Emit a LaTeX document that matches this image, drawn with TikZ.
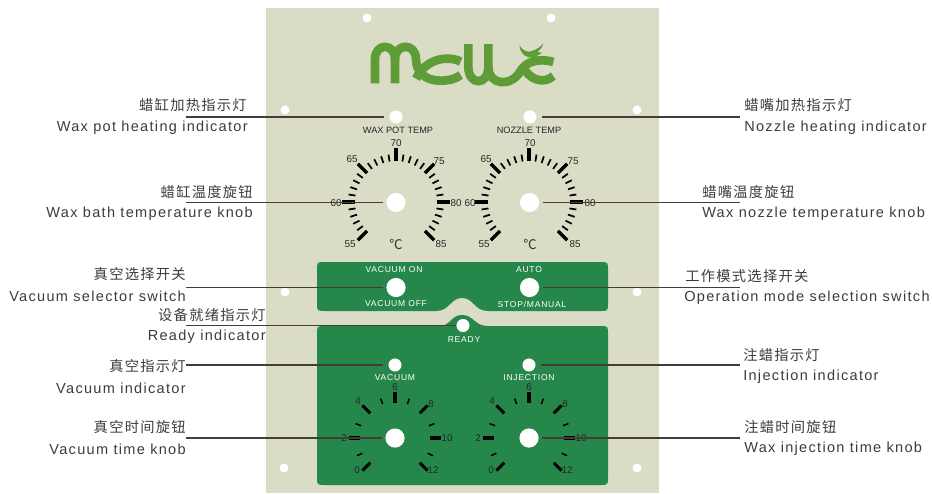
\documentclass[tikz,border=0pt]{standalone}
\usepackage{fontspec}
\setmainfont{Liberation Sans}
\newfontfamily\cjk{Noto Sans CJK SC}
\newfontfamily\lab[LetterSpace=9]{Liberation Sans}
\newfontfamily\cjklab[LetterSpace=9]{Noto Sans CJK SC}
\definecolor{plate}{HTML}{DBDCC6}
\definecolor{panel}{HTML}{26874A}
\definecolor{logo}{HTML}{5E9C37}
\definecolor{leadcol}{HTML}{453C36}
\definecolor{labcol}{HTML}{3C3C3C}
\tikzset{
  lamp/.style={circle,fill=white,inner sep=0pt,minimum size=9.8pt,outer sep=4pt},
  knob/.style={circle,fill=white,inner sep=0pt,minimum size=14.4pt,outer sep=2.6pt},
  hole/.style={circle,fill=white,inner sep=0pt,minimum size=6.8pt},
  leader/.style={draw=leadcol,line width=1.1pt},
  cntxt/.style={font=\fontsize{10.7pt}{12pt}\cjklab,text=labcol,inner sep=0pt},
  entxt/.style={font=\fontsize{10.9pt}{12pt}\lab,text=labcol,inner sep=0pt,yshift=-0.8pt},
  dialtxt/.style={font=\fontsize{7.4pt}{8pt}\selectfont,text=black!85,inner sep=0pt},
  whitetxt/.style={font=\fontsize{6.4pt}{7pt}\lab,text=white,inner sep=0pt},
  headtxt/.style={font=\fontsize{6.9pt}{8pt}\selectfont,text=black!85,inner sep=0pt},
  degtxt/.style={font=\fontsize{10pt}{11pt}\cjk,text=black!80,inner sep=0pt},
  bigtick/.style={line width=2.6pt,black},
  smalltick/.style={line width=1.3pt,black},
  timebig/.style={line width=2.3pt,black},
  timesmall/.style={line width=1.1pt,black},
  logostroke/.style={draw=logo,line width=6.5pt}
}
\begin{document}
\begin{tikzpicture}[x=0.75pt,y=-0.75pt]
\useasboundingbox (0,0) rectangle (932,493);
\fill[plate] (266,8) rectangle (659,492.5);
\node[hole] (h1) at (367,18) {};
\node[hole] (h2) at (551,18) {};
\node[hole] (h3) at (285,110) {};
\node[hole] (h4) at (637,110) {};
\node[hole] (h5) at (285,292) {};
\node[hole] (h6) at (637,292) {};
\node[hole] (h7) at (284,468) {};
\node[hole] (h8) at (637,468) {};
\begin{scope}[shift={(340,20)},x=0.25pt,y=-0.25pt]
\draw[logostroke] (105,190) -- (105,118) .. controls (105,68) and (165,68) .. (165,118) -- (165,190);
\draw[logostroke] (165,118) .. controls (165,68) and (228,68) .. (228,118) .. controls (228,155) and (255,182) .. (300,182) .. controls (325,182) and (345,178) .. (362,165);
\draw[logostroke] (228,176) .. controls (248,135) and (285,116) .. (320,116) .. controls (335,116) and (350,118) .. (362,125);
\draw[logostroke] (385,72) -- (385,140) .. controls (385,198) and (445,198) .. (445,140) -- (445,72);
\draw[logostroke] (445,140) .. controls (445,198) and (515,200) .. (540,155) .. controls (555,128) and (590,112) .. (640,126);
\draw[logostroke] (548,138) .. controls (565,178) and (610,195) .. (640,168);
\fill[logo] (538,76) .. controls (548,92) and (565,100) .. (578,92) .. controls (590,88) and (600,82) .. (610,70) .. controls (607,82) and (600,90) .. (592,96) -- (606,98) .. controls (592,108) and (580,116) .. (566,112) .. controls (550,108) and (540,95) .. (538,76) -- cycle;
\end{scope}
\fill[panel] (325,262) -- (600,262) .. controls (608,262) and (608,262) .. (608,270) -- (608,303) .. controls (608,311) and (608,311) .. (600,311)
  -- (488,311) .. controls (474,311) and (474,298) .. (462,298) .. controls (450,298) and (450,311) .. (436,311)
  -- (325,311) .. controls (317,311) and (317,311) .. (317,303) -- (317,270) .. controls (317,262) and (317,262) .. (325,262) -- cycle;
\fill[panel] (325,326) -- (440,326) .. controls (450,326) and (451,315) .. (462,315) .. controls (474,315) and (474,326) .. (488,326)
  -- (600,326) .. controls (608,326) and (608,326) .. (608,334) -- (608,477) .. controls (608,485) and (608,485) .. (600,485)
  -- (325,485) .. controls (317,485) and (317,485) .. (317,477) -- (317,334) .. controls (317,326) and (317,326) .. (325,326) -- cycle;
% temperature dials
\foreach \cx in {396,529}{
  \foreach \a in {0,45,-45,-90,-135,135,180}
    \draw[bigtick] (\cx,202)+(\a:41) -- +(\a:54);
  \foreach \a in {9,18,27,36,-9,-18,-27,-36,-54,-63,-72,-81,-99,-108,-117,-126,-144,-153,-162,-171,171,162,153,144}
    \draw[smalltick] (\cx,202)+(\a:41) -- +(\a:48);
}
% time dials
\foreach \cx in {395,529}{
  \foreach \a in {0,45,-45,-90,-135,135,180}
    \draw[timebig] (\cx,438)+(\a:35) -- +(\a:46);
  \foreach \a in {25,-20,-70,-110,-160,155}
    \draw[timesmall] (\cx,438)+(\a:36) -- +(\a:42);
}
\node[headtxt] (potname) at (398,130) {WAX POT TEMP};
\node[headtxt] (nozname) at (529,130) {NOZZLE TEMP};
\node[dialtxt] (a70) at (396,143) {70};
\node[dialtxt] (a65) at (352,159) {65};
\node[dialtxt] (a75) at (439,161) {75};
\node[dialtxt] (a60) at (336,203) {60};
\node[dialtxt] (a80) at (456,203) {80};
\node[dialtxt] (a55) at (350,244) {55};
\node[dialtxt] (a85) at (441,244) {85};
\node[degtxt] (adeg) at (396,244) {℃};
\node[dialtxt] (b70) at (530,143) {70};
\node[dialtxt] (b65) at (486,159) {65};
\node[dialtxt] (b75) at (573,161) {75};
\node[dialtxt] (b60) at (470,203) {60};
\node[dialtxt] (b80) at (590,203) {80};
\node[dialtxt] (b55) at (484,244) {55};
\node[dialtxt] (b85) at (575,244) {85};
\node[degtxt] (bdeg) at (530,244) {℃};
\node[whitetxt] (vacon) at (394,270) {VACUUM ON};
\node[whitetxt] (vacoff) at (396,304) {VACUUM OFF};
\node[whitetxt] (auto) at (529,270) {AUTO};
\node[whitetxt] (stopman) at (532,304) {STOP/MANUAL};
\node[whitetxt] (readytxt) at (464,340) {READY};
\node[whitetxt] (vactxt) at (395,378) {VACUUM};
\node[whitetxt] (injtxt) at (529,378) {INJECTION};
\node[dialtxt] (c6) at (395,387) {6};
\node[dialtxt] (c4) at (358,401) {4};
\node[dialtxt] (c8) at (431,404) {8};
\node[dialtxt] (c2) at (344,438) {2};
\node[dialtxt] (c10) at (447,438) {10};
\node[dialtxt] (c0) at (357,470) {0};
\node[dialtxt] (c12) at (433,470) {12};
\node[dialtxt] (d6) at (529,387) {6};
\node[dialtxt] (d4) at (492,401) {4};
\node[dialtxt] (d8) at (565,404) {8};
\node[dialtxt] (d2) at (478,438) {2};
\node[dialtxt] (d10) at (581,438) {10};
\node[dialtxt] (d0) at (491,470) {0};
\node[dialtxt] (d12) at (567,470) {12};
\node[lamp] (potlamp) at (396,117) {};
\node[lamp] (nozlamp) at (530,117) {};
\node[knob] (potknob) at (396,202.5) {};
\node[knob] (nozknob) at (529.5,202.5) {};
\node[knob] (vacswitch) at (396,287.5) {};
\node[knob] (modeswitch) at (529.5,287.5) {};
\node[lamp,outer sep=0pt] (readylamp) at (463,325.5) {};
\node[lamp] (vaclamp) at (395,365) {};
\node[lamp] (injlamp) at (529,365) {};
\node[knob] (vacknob) at (395,438) {};
\node[knob] (injknob) at (529,438) {};
\node[cntxt,anchor=east] (t1) at (247,105) {蜡缸加热指示灯};
\node[entxt,anchor=east] (e1) at (248,127) {Wax pot heating indicator};
\node[cntxt,anchor=east] (t2) at (253,192) {蜡缸温度旋钮};
\node[entxt,anchor=east] (e2) at (253,213) {Wax bath temperature knob};
\node[cntxt,anchor=east] (t3) at (186,274) {真空选择开关};
\node[entxt,anchor=east] (e3) at (186,295) {Vacuum selector switch};
\node[cntxt,anchor=east] (t4) at (266,315) {设备就绪指示灯};
\node[entxt,anchor=east] (e4) at (266,336) {Ready indicator};
\node[cntxt,anchor=east] (t5) at (186,366) {真空指示灯};
\node[entxt,anchor=east] (e5) at (186,387) {Vacuum indicator};
\node[cntxt,anchor=east] (t6) at (186,427) {真空时间旋钮};
\node[entxt,anchor=east] (e6) at (186,448) {Vacuum time knob};
\node[cntxt,anchor=west] (t7) at (744,105) {蜡嘴加热指示灯};
\node[entxt,anchor=west] (e7) at (744,127) {Nozzle heating indicator};
\node[cntxt,anchor=west] (t8) at (702,192) {蜡嘴温度旋钮};
\node[entxt,anchor=west] (e8) at (702,213) {Wax nozzle temperature knob};
\node[cntxt,anchor=west] (t9) at (685,276) {工作模式选择开关};
\node[entxt,anchor=west] (e9) at (684,297) {Operation mode selection switch};
\node[cntxt,anchor=west] (t10) at (743,355) {注蜡指示灯};
\node[entxt,anchor=west] (e10) at (743,376) {Injection indicator};
\node[cntxt,anchor=west] (t11) at (744,427) {注蜡时间旋钮};
\node[entxt,anchor=west] (e11) at (744,448) {Wax injection time knob};
\coordinate (l1) at (186,117);
\coordinate (l2) at (186,202.5);
\coordinate (l3) at (186,287.5);
\coordinate (l4) at (186,325.5);
\coordinate (l5) at (186,365);
\coordinate (l6) at (186,438);
\coordinate (r1) at (740,117);
\coordinate (r2) at (740,202.5);
\coordinate (r3) at (740,287.5);
\coordinate (r4) at (740,365);
\coordinate (r5) at (740,438);
\draw[leader] (l1) -- (potlamp);
\draw[leader] (l2) -- (potknob);
\draw[leader] (l3) -- (vacswitch);
\draw[leader] (l4) -- (readylamp);
\draw[leader] (l5) -- (vaclamp);
\draw[leader] (l6) -- (vacknob);
\draw[leader] (r1) -- (nozlamp);
\draw[leader] (r2) -- (nozknob);
\draw[leader] (r3) -- (modeswitch);
\draw[leader] (r4) -- (injlamp);
\draw[leader] (r5) -- (injknob);
\end{tikzpicture}
\end{document}
